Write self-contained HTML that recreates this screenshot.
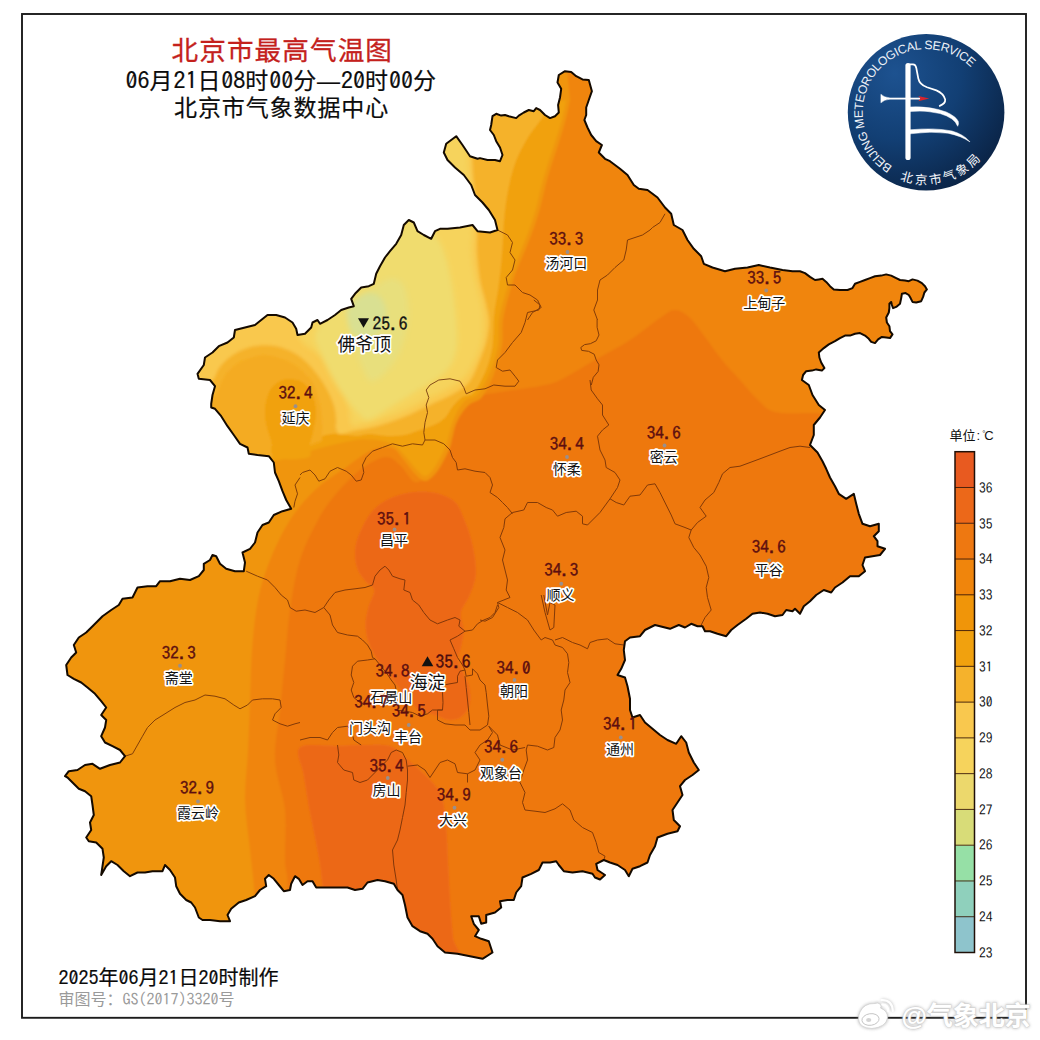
<!DOCTYPE html><html lang="zh"><head><meta charset="utf-8"><title>北京市最高气温图</title>
<style>html,body{margin:0;padding:0;background:#fff}body{width:1040px;height:1040px;overflow:hidden}svg{display:block}.c{font-family:"Liberation Sans","Noto Sans CJK SC",sans-serif}.n{font-family:"IPAGothic","Liberation Mono",monospace}</style></head><body>
<svg width="1040" height="1040" viewBox="0 0 1040 1040">
<defs>
<clipPath id="mapclip"><path d="M447.5,228.8L460,227.5L472.5,225L477.5,231.2L490,232.5L497.5,230L495,220L488.8,210L482.5,202.5L475,195L471.2,185L463.8,175L455,167.5L447.5,160L443.8,152.5L446.2,143.8L456.2,136.2L462.5,145L470,156.2L477.5,158.8L480,158.1L487.5,160L495,160L500,161.2L502.5,155L500,147.5L496.2,141.2L493.8,135L490,130L491.2,125L492.5,116.2L496.2,113.8L501.2,115.6L505,115L508.8,116.2L516.2,118.1L518.8,115.6L523.8,112.5L528.8,110L533.8,111.2L536.2,108.1L540,110L545,115L550,118.1L555,116.2L558.8,112.5L558.1,105L560,97.5L561.2,88.8L557.5,82.5L558.8,75L565,71.2L571.2,71.9L576.2,76.2L582.5,79.4L588.8,80L591.9,91.2L588.8,100L586.2,107.5L586.2,115L584.4,120L587.5,127.5L591.2,135L596.2,141.2L601.9,145L598.8,152.5L605,158.8L610,161.2L615,165L620,168.8L627.5,175L633.8,185L638.8,188.8L647.5,190L657.5,197.5L665,207.5L671.2,213.8L673.8,225L682.5,230L687.5,240L693.8,248.8L701.2,256.2L703.8,263.8L712.5,267.5L725,271.2L735,268.8L747.5,267.5L758.8,265L770,267.5L782.5,270L792.5,271.2L800,271.2L805,273.1L810,276.9L815,280L818.8,279.4L822.5,278.8L826.2,281.9L830,286.2L833.8,289.4L840,290L847.5,290L852.5,288.1L855,283.8L860,281.9L865,280L870,278.1L875,276.2L881.2,275.6L886.2,274.4L891.2,275.6L896.2,278.1L900,280L905,280.6L908.8,281.2L912.5,279.4L917.5,280.6L921.9,283.1L925,286.2L926.9,289.4L924.4,292.5L923.1,296.9L921.2,301.2L916.2,302.5L912.5,301.9L910.6,298.1L908.8,295L905.6,293.1L901.9,293.8L901.2,298.1L900,303.8L896.2,306.9L893.1,308.1L891.9,305L891.2,301.9L889.4,303.8L889.4,308.1L888.8,312.5L886.2,317.5L886.9,322.5L889.4,326.2L890,331.2L892.5,334.4L890,338.1L886.2,337.5L881.9,336.9L878.1,339.4L875,343.1L871.2,341.9L868.8,338.8L865,335.6L860,333.1L855,333.8L850,335.6L845,335.6L840,338.1L835,341.2L828.8,344.4L823.8,348.1L818.8,352.5L819.4,357.5L821.2,362.5L824.4,368.1L821.9,370.6L816.2,369.4L811.9,370.6L806.2,371.2L803.1,375L801.9,380L808.8,385L812.5,395L818.8,405L825,410L820,417.5L813.8,425L813.8,435L810,445L817.5,452.5L822.5,461.2L826.2,468.8L830,477.5L835,486.2L838.8,493.8L846.2,498.8L853.8,493.8L856.2,503.8L858.8,513.8L862.5,523.8L870,526.2L878.8,523.8L878.8,531.2L873.8,536.2L877.5,541.2L877.5,546.2L885,548.8L880,555L872.5,556.2L865,557.5L862.5,565L865,571.2L858.8,576.2L850,576.2L842.5,582.5L835,587.5L831.2,592.5L823.8,590L816.2,595L810,601.2L803.8,606.2L800,613.8L795,608.8L792.5,611.2L786.2,610L782.5,615L775,616.2L767.5,613.8L760,612.5L752.5,613.8L746.2,618.8L737.5,625L731.2,630L726.2,636.2L717.5,633.8L710,631.2L705,631.2L702.5,626.2L697.5,626.2L691.2,623.8L685,627.5L678.8,625L670,628.8L660,626.2L655,625L645,630L640,636.2L630,637.5L625,641.2L623.8,650L625,660L621.2,668.8L617.5,675L625,677.5L627.5,686.2L630,698.8L630,710L632.5,717.5L640,715L645,722.5L652.5,728.8L660,735L667.5,740L676.2,743.8L681.2,736.2L686.2,742.5L688.8,752.5L693.8,762.5L698.8,770L692.5,775L685,780L680,786.2L682.5,795L677.5,802.5L672.5,810L673.8,820L680,826.2L677.5,831.2L667.5,833.8L657.5,837.5L655,846.2L650,855L647.5,862.5L640,866.2L632.5,868.8L628.8,876.2L625,870L617.5,865L610,862.5L603.8,860L596.2,863.8L597.5,870L605,875L600,879.5L595,877.5L592.5,873.8L582.5,871.2L572.5,872.5L563.8,871.2L558.8,865L556.2,861.2L550,862.5L542.5,862.5L538.8,870L531.2,873.8L522.5,877.5L521.2,886.2L516.2,892.5L513.8,900L507.5,900L500,901.2L501.2,907.5L495,912.5L486.2,915L486.2,922.5L481.2,923.8L478.8,916.2L471.2,916.2L473.8,923.8L478.8,930L475,936.2L481.2,938.8L488.8,941.2L492.5,952.5L482.5,958.8L470,956.2L457.5,953.8L445,952.5L437.5,946.2L432.5,938.8L427.5,933.8L420,931.2L412.5,926.2L407.5,917.5L405,905L402.5,895L397.5,890L393.8,883.8L385,881.2L377.5,880L367.5,882.5L362.5,888.8L355,890L347.5,887.5L340,887.5L327.5,887.5L316.2,887.5L312.5,881.2L307.5,881.2L302.5,885L298.8,878.8L295,876.2L291.2,883.8L290,890L283.8,891.2L278.8,885L273.8,878.8L268.8,875L265,878.8L266.2,886.2L260,890L255,896.2L246.2,900L238.8,902.5L231.2,908.8L227.5,915L230,921.2L220,921.2L210,920L202.5,920L198.8,917.5L195,907.5L191.2,902.5L186.2,900L180,893.8L176.2,886.2L175,877.5L170,870L165,865L162.5,871.2L152.5,871.2L145,872.5L137.5,872.5L130,876.2L123.8,871.2L117.5,865L111.2,861.2L106.2,866.2L101.2,875L102.5,866.2L103.8,857.5L102.5,848.8L96.2,842.5L88.8,841.2L86.2,837.5L91.2,830L90,822.5L93.8,815L92.5,805L91.2,796.2L85,791.2L78.8,788.8L72.5,782.5L67.5,777.5L65,776.2L68.8,771.2L77.5,770L85,765L92.5,763.8L100,768.8L110,765L120,762.5L125,756.2L120,750L112.5,746.2L105,742.5L101.2,736.2L105,727.5L106.2,720L101.2,715L106.2,707.5L101.2,701.2L95,693.8L87.5,687.5L81.2,682.5L73.8,678.8L67.5,675L66.2,665L71.2,657.5L76.2,652.5L73.8,645L78.8,637.5L86.2,632.5L93.8,625L102.5,616.2L111.2,610L118.8,605L122.5,598.8L132.5,597.5L137.5,587.5L147.5,586.2L156.2,586.2L160,581.2L170,581.2L180,578.8L190,580L198.8,576.2L203.8,570L203.8,563.8L210,560L212.5,555L216.2,556.2L220,563.8L226.2,568.8L235,571.2L243.8,571.2L245,562.5L242.5,552.5L250,548.8L255,542.5L257.5,532.5L262.5,525L268.8,522.5L273.8,515L282.5,511.2L291.2,508.8L286.2,500L282.5,491.2L278.8,481.2L275,472.5L273.8,462.5L268.8,456.2L257.5,455L248.8,453.8L247.5,447.5L240,443.8L233.8,435L227.5,426.2L221.2,416.2L215,408.8L211.2,407.5L211.2,403.8L212.5,395L215,386.2L210,380L198.8,378.8L197.5,373.8L203.8,365L205,357.5L212.5,352.5L218.8,346.2L227.5,342.5L233.8,337.5L235,330L245,327.5L255,325L261.2,320L267.5,315L276.2,315L285,317.5L292.5,322.5L296.2,328.8L297.5,335L305,333.8L311.2,327.5L312.5,322.5L317.5,320L320,323.8L327.5,320L335,315L341.2,310L348.8,307.5L353.8,306.2L351.2,298.8L355,293.8L361.2,287.5L368.8,286.2L373.8,283.8L376.2,273.8L380,266.2L385,257.5L390,251.2L396.2,243.8L401.2,235L403.8,225L408.8,220L413.8,222.5L417.5,231.2L423.8,235L431.2,238.8L435,231.2L440,228.8Z"/></clipPath>
<radialGradient id="lg" cx="0.3" cy="0.25" r="0.85"><stop offset="0" stop-color="#1d5290"/><stop offset="0.5" stop-color="#123f74"/><stop offset="1" stop-color="#0a2243"/></radialGradient>
<filter id="b1" x="-5%" y="-5%" width="110%" height="110%"><feGaussianBlur stdDeviation="1.2"/></filter>
<filter id="b3" filterUnits="userSpaceOnUse" x="0" y="0" width="1040" height="1040"><feGaussianBlur stdDeviation="2.5"/></filter>
<filter id="b2" x="-20%" y="-20%" width="140%" height="140%"><feGaussianBlur stdDeviation="1.6"/></filter>
<path id="arcT" d="M892.4,166.25 A63.5,63.5 0 1 1 972,68.5"/>
<path id="arcB" d="M899.1,179.2 A72,72 0 0 0 982.8,156.7"/>
</defs>
<rect width="1040" height="1040" fill="#fff"/>
<rect x="22" y="14" width="1004" height="1003.8" fill="none" stroke="#1c1c1c" stroke-width="1.9"/>
<g clip-path="url(#mapclip)"><g filter="url(#b1)">
<rect x="40" y="50" width="920" height="940" fill="#f0850c"/>
<path d="M290,1000C289.7,981.7 288.8,913.3 288,890C287.2,866.7 285.5,873.3 285,860C284.5,846.7 286.7,826.7 285,810C283.3,793.3 275.8,776.7 275,760C274.2,743.3 278.3,726.7 280,710C281.7,693.3 283.3,676.7 285,660C286.7,643.3 287.5,626.7 290,610C292.5,593.3 295.3,575.0 300,560C304.7,545.0 312.2,530.8 318,520C323.8,509.2 328.0,503.3 335,495C342.0,486.7 351.7,476.3 360,470C368.3,463.7 378.3,457.8 385,457C391.7,456.2 395.0,460.8 400,465C405.0,469.2 410.0,480.8 415,482C420.0,483.2 425.8,477.3 430,472C434.2,466.7 437.3,457.8 440,450C442.7,442.2 443.5,432.2 446,425C448.5,417.8 450.2,411.7 455,407C459.8,402.3 467.5,399.5 475,397C482.5,394.5 489.2,393.8 500,392C510.8,390.2 530.0,388.0 540,386C550.0,384.0 550.8,384.3 560,380C569.2,375.7 583.3,366.7 595,360C606.7,353.3 619.2,347.0 630,340C640.8,333.0 652.5,323.0 660,318C667.5,313.0 670.0,310.0 675,310C680.0,310.0 685.0,313.5 690,318C695.0,322.5 699.7,330.0 705,337C710.3,344.0 716.2,352.8 722,360C727.8,367.2 734.0,373.3 740,380C746.0,386.7 752.2,394.7 758,400C763.8,405.3 766.3,409.8 775,412C783.7,414.2 797.5,412.8 810,413C822.5,413.2 825.0,413.5 850,413C875.0,412.5 941.7,410.5 960,410L960,1000Z" fill="#ee7811"/>
<path d="M391.5,497.7C398.2,494.8 406.9,492.7 414.6,492C422.3,491.3 431.0,491.7 437.7,493.4C444.4,495.1 450.7,497.9 455,502C459.3,506.1 461.0,511.9 463.6,517.9C466.2,523.9 468.9,530.8 470.8,538C472.7,545.2 474.5,554.2 475.2,561C475.9,567.8 476.2,572.7 475.2,578.5C474.2,584.3 471.8,590.0 469.4,595.8C467.0,601.5 461.8,607.2 460.8,613C459.8,618.8 463.6,624.6 463.6,630.4C463.6,636.2 461.8,642.9 460.8,647.7C459.9,652.5 457.4,654.9 457.9,659.2C458.4,663.5 461.7,668.8 463.6,673.6C465.5,678.4 468.4,682.7 469.4,688C470.4,693.3 470.8,700.6 469.4,705.4C468.0,710.2 464.2,714.5 460.8,716.9C457.4,719.3 453.1,719.9 449.2,719.8C445.3,719.6 440.6,717.0 437.7,716C434.8,715.0 434.8,714.8 431.9,714C429.0,713.2 424.2,713.5 420.4,711.1C416.5,708.7 412.6,703.9 408.8,699.6C405.0,695.3 401.1,690.0 397.3,685.2C393.5,680.4 389.2,675.1 385.8,670.8C382.4,666.5 380.0,664.0 377.1,659.2C374.2,654.4 370.4,647.7 368.5,641.9C366.6,636.1 365.6,630.4 365.6,624.6C365.6,618.8 367.1,613.1 368.5,607.3C369.9,601.5 374.7,594.3 374.2,590C373.7,585.7 368.5,585.1 365.6,581.3C362.7,577.4 358.6,572.7 356.9,566.9C355.2,561.1 354.5,553.4 355.5,546.7C356.5,540.0 359.6,532.8 362.7,526.5C365.8,520.2 369.4,514.0 374.2,509.2C379.0,504.4 384.8,500.6 391.5,497.7Z" fill="#ec6819"/>
<path d="M300,747.5C305.6,742.7 327.1,746.4 337.5,746C347.9,745.6 353.8,745.0 362.5,745C371.2,745.0 382.9,743.9 390,746C397.1,748.1 399.2,752.7 405,757.5C410.8,762.3 419.0,768.8 425,775C431.0,781.2 437.5,786.7 441,795C444.5,803.3 444.8,813.8 446,825C447.2,836.2 447.3,850.0 448,862.5C448.7,875.0 449.2,887.5 450,900C450.8,912.5 451.8,925.0 453,937.5C454.2,950.0 477.5,968.8 457,975C436.5,981.2 352.4,990.0 330,975C307.6,960.0 324.6,905.8 322.5,885C320.4,864.2 319.6,862.1 317.5,850C315.4,837.9 312.3,825.0 310,812.5C307.7,800.0 305.4,785.8 303.75,775C302.1,764.2 294.4,752.3 300,747.5Z" fill="#ec6819"/>
<path d="M260,1000C259.2,983.3 256.7,925.0 255,900C253.3,875.0 251.7,866.7 250,850C248.3,833.3 245.3,816.7 245,800C244.7,783.3 247.2,766.7 248,750C248.8,733.3 249.3,716.7 250,700C250.7,683.3 250.7,666.7 252,650C253.3,633.3 255.0,615.0 258,600C261.0,585.0 264.7,573.3 270,560C275.3,546.7 282.5,531.7 290,520C297.5,508.3 305.8,498.7 315,490C324.2,481.3 335.5,474.7 345,468C354.5,461.3 364.2,453.3 372,450C379.8,446.7 386.8,446.5 392,448C397.2,449.5 399.2,454.7 403,459C406.8,463.3 411.3,470.3 415,474C418.7,477.7 421.9,481.2 425.4,481C428.9,480.8 432.9,476.5 436,473C439.1,469.5 441.7,464.3 444,460C446.3,455.7 448.5,451.2 450,447C451.5,442.8 452.0,438.8 453,435C454.0,431.2 454.5,427.7 456,424C457.5,420.3 459.7,416.3 462,413C464.3,409.7 466.7,406.7 470,404C473.3,401.3 478.0,402.0 482,397C486.0,392.0 490.7,382.5 494,374C497.3,365.5 500.5,355.0 502,346C503.5,337.0 501.8,328.5 503,320C504.2,311.5 506.8,303.0 509,295C511.2,287.0 513.5,279.0 516,272C518.5,265.0 521.4,259.4 524,253C526.6,246.6 529.1,240.8 531.7,233.8C534.3,226.8 537.2,218.5 539.4,210.8C541.6,203.1 543.1,195.1 545,187.7C546.9,180.3 548.7,173.9 551,166.5C553.3,159.1 556.1,151.5 558.6,143.5C561.1,135.5 564.1,125.8 566,118.5C567.9,111.2 569.3,103.1 570,100L566,60L400,60L40,300L40,1000Z" fill="#f09509"/>
<path d="M566,100C565.4,103.1 564.2,111.2 562.3,118.5C560.4,125.8 557.1,135.5 554.6,143.5C552.1,151.5 549.3,159.1 547,166.5C544.7,173.9 542.9,180.3 541,187.7C539.1,195.1 537.6,203.1 535.4,210.8C533.2,218.5 530.3,226.8 527.7,233.8C525.1,240.8 522.6,246.6 520,253C517.4,259.4 514.8,265.3 512.3,272.3C509.8,279.3 507.2,287.1 505,295C502.8,302.9 500.2,311.5 499,320C497.8,328.5 499.4,337.3 497.9,346C496.4,354.7 493.3,364.0 490,372C486.7,380.0 482.0,389.3 478,394C474.0,398.7 469.3,397.3 466,400C462.7,402.7 460.3,406.0 458,410C455.7,414.0 453.5,419.8 452,424C450.5,428.2 450.1,431.2 449,435C447.9,438.8 447.0,442.7 445.5,446.5C444.0,450.3 442.1,454.1 440,458C437.9,461.9 435.4,466.6 433,469.6C430.6,472.6 428.1,475.9 425.4,476C422.7,476.1 420.2,473.2 417,470C413.8,466.8 409.8,461.2 406,457C402.2,452.8 398.3,447.8 394,445C389.7,442.2 384.3,441.4 380,440.5C375.7,439.6 372.1,439.6 368,439.5C363.9,439.4 362.4,438.8 355.4,440C348.4,441.2 337.0,443.7 326,446.6C315.0,449.5 299.3,455.2 289.6,457.6C279.9,460.0 279.9,460.4 267.7,461C255.5,461.6 225.0,461.0 216.5,461L143.5,455.8L143.5,309.6L289.6,163.5L435.8,126.9Z" fill="#f1a10e"/>
<path d="M548,105C547.2,106.9 546.4,111.0 543,116.5C539.6,122.0 532.2,130.3 527.7,137.7C523.2,145.1 519.0,153.1 516,160.8C513.0,168.5 511.1,176.4 509.4,183.8C507.7,191.2 506.6,198.3 505.6,205C504.7,211.7 504.2,217.6 503.7,224C503.2,230.4 503.1,236.7 502.7,243.5C502.2,250.3 501.8,257.2 501,265C500.2,272.8 499.2,281.7 498,290C496.8,298.3 494.9,305.7 494,315C493.1,324.3 493.7,336.8 492.4,346C491.1,355.2 489.1,362.3 486,370C482.9,377.7 477.8,387.8 473.8,392.3C469.9,396.8 465.8,394.7 462.3,397C458.8,399.3 455.9,402.6 453,406C450.1,409.4 448.1,414.6 445,417.7C441.9,420.8 438.4,422.7 434.6,424.6C430.8,426.5 427.0,427.5 422,429.2C417.0,430.9 410.4,433.9 404.6,435C398.8,436.1 393.1,436.2 387.3,436C381.5,435.8 375.3,434.1 370,434C364.7,433.9 361.5,435.7 355.4,435.7C349.3,435.7 339.6,433.5 333.5,433.8C327.4,434.1 323.7,435.6 318.8,437.5C313.9,439.4 309.1,443.2 304.2,445.5C299.3,447.8 294.8,449.8 289.6,451.4C284.4,453.0 279.3,454.4 273.2,455C267.1,455.6 262.4,454.9 253,455C243.6,455.1 222.6,455.7 216.5,455.8L143.5,455.8L143.5,309.6L289.6,163.5L435.8,126.9Z" fill="#f5b22c"/>
<path d="M470,130C470.3,134.5 471.5,149.3 472,157C472.5,164.7 472.5,169.7 473,176C473.5,182.3 474.5,188.5 475,195C475.5,201.5 475.7,208.5 476,215C476.3,221.5 476.8,227.7 477,234C477.2,240.3 476.5,245.3 477,253C477.5,260.7 478.7,272.2 480,280C481.3,287.8 483.5,293.3 485,300C486.5,306.7 488.7,313.7 489,320C489.3,326.3 488.2,332.3 487,338C485.8,343.7 484.8,346.8 482,354C479.2,361.2 474.7,374.4 470,381C465.3,387.6 460.7,389.5 454,393.5C447.3,397.5 438.3,401.1 430,405C421.7,408.9 413.0,413.4 404,417C395.0,420.6 384.5,424.2 376,426.5C367.5,428.8 359.0,429.8 353,431C347.0,432.2 342.8,434.5 340,434C337.2,433.5 336.6,430.3 336,428C335.4,425.7 336.4,423.4 336.2,420C336.0,416.6 335.6,411.8 334.6,407.7C333.6,403.6 332.1,399.8 330,395.4C327.9,391.0 325.1,385.9 322.3,381.5C319.5,377.1 316.3,373.0 313,369.2C309.7,365.4 306.1,361.6 302.3,358.5C298.5,355.4 294.4,352.9 290,350.8C285.6,348.8 281.3,347.1 276.2,346.2C271.1,345.3 264.6,344.9 259.2,345.4C253.8,345.9 248.7,347.3 243.8,349.2C238.9,351.1 234.1,353.8 230,356.9C225.9,360.0 222.0,363.8 219.2,367.7C216.4,371.6 215.7,376.9 213,380C210.3,383.1 204.7,385.0 203,386L143.5,455.8L143.5,309.6L289.6,163.5L435.8,126.9Z" fill="#f9c84e" filter="url(#b1)"/>
<path d="M466,130C466.3,134.5 467.5,149.3 468,157C468.5,164.7 468.5,169.6 469,176C469.5,182.4 470.5,189.0 471,195.4C471.5,201.8 471.7,208.2 472,214.6C472.3,221.0 472.9,227.4 472.9,233.8C472.9,240.2 471.5,245.3 472,253C472.5,260.7 474.3,272.2 475.8,280C477.3,287.8 479.7,293.3 481,300C482.3,306.7 483.2,313.5 483.5,320C483.8,326.5 483.4,333.1 482.5,338.8C481.6,344.5 480.8,347.8 478,354C475.2,360.2 470.7,370.3 466,376C461.3,381.7 456.5,384.2 450,388C443.5,391.8 435.0,395.1 427,399C419.0,402.9 410.8,407.8 402,411.5C393.2,415.2 382.2,418.7 374,421C365.8,423.3 357.0,426.0 353,425.5C349.0,425.0 350.8,421.0 350,418C349.2,415.0 349.8,413.0 348.5,407.7C347.2,402.4 344.9,392.6 342.3,386.2C339.7,379.8 336.6,374.3 333,369.2C329.4,364.1 325.2,359.2 320.8,355.4C316.4,351.6 310.8,349.5 306.9,346.2C303.0,342.9 299.8,338.8 297.7,335.4C295.6,332.0 294.6,327.6 294,326L296,300L289.6,163.5L435.8,127Z" fill="#f6d35c" filter="url(#b3)"/>
<path d="M413.8,214.6C417.5,218.2 430.6,228.8 436,236C441.4,243.2 443.2,248.8 446,258C448.8,267.2 451.2,279.0 453,291C454.8,303.0 456.5,319.8 457,330C457.5,340.2 457.3,345.7 456,352C454.7,358.3 452.5,363.3 449,368C445.5,372.7 441.0,375.7 434.9,380C428.8,384.3 420.0,389.1 412.5,393.7C405.0,398.3 397.2,403.3 390,407.6C382.8,411.9 374.2,418.5 369.2,419.7C364.2,420.9 363.5,418.0 360,415C356.5,412.0 352.6,407.2 348.4,401.7C344.2,396.2 339.0,389.6 334.6,382C330.2,374.4 325.3,363.7 322,356C318.7,348.3 314.5,342.3 315,336C315.5,329.7 320.8,324.0 325,318C329.2,312.0 334.2,306.3 340,300C345.8,293.7 352.5,288.3 360,280C367.5,271.7 376.0,260.9 385,250C394.0,239.1 409.0,220.5 413.8,214.6LZ" fill="#f0dc6e" filter="url(#b3)"/>
<path d="M353.6,304.1C357.0,301.4 367.6,291.9 373.7,287.7C379.8,283.4 385.2,279.2 390.1,278.6C395.0,278.0 399.8,279.4 402.9,284C405.9,288.6 407.8,298.1 408.4,306C409.0,313.9 408.3,323.0 406.5,331.5C404.7,340.0 401.3,349.8 397.4,357.1C393.4,364.4 387.4,371.4 382.8,375.4C378.2,379.4 373.6,382.7 370,380.9C366.4,379.1 363.6,370.8 360.9,364.4C358.2,358.0 355.7,349.5 353.6,342.5C351.5,335.5 348.1,328.8 348.1,322.4C348.1,316.0 352.7,307.2 353.6,304.1LZ" fill="#e8df7c" filter="url(#b3)"/>
<path d="M346,312C347.5,310.0 351.3,303.2 355,300C358.7,296.8 363.8,293.5 368,293C372.2,292.5 377.0,294.2 380,297C383.0,299.8 385.3,305.5 386,310C386.7,314.5 385.7,320.0 384,324C382.3,328.0 379.3,331.7 376,334C372.7,336.3 368.0,338.3 364,338C360.0,337.7 355.0,336.3 352,332C349.0,327.7 347.0,315.3 346,312LZ" fill="#d9e092" filter="url(#b3)"/>
<path d="M208,398C209.3,397.5 213.9,397.5 216,395C218.1,392.5 218.7,387.0 220.8,383C222.9,379.0 225.2,374.4 228.5,370.8C231.8,367.2 235.7,364.1 240.8,361.5C245.9,358.9 253.3,356.2 259.2,355.4C265.1,354.6 270.8,355.6 276.2,356.9C281.6,358.2 286.9,360.4 291.5,363C296.1,365.6 300.2,369.0 303.8,372.3C307.4,375.6 310.7,379.1 313,383C315.3,386.9 316.4,391.3 317.7,395.4C319.0,399.5 320.0,403.1 320.8,407.7C321.6,412.3 322.1,417.4 322.3,423C322.5,428.6 322.1,438.0 322,441L300,449L270,457L240,458L215,450L200,420Z" fill="#f4ab22" filter="url(#b1)"/>
<path d="M290.3,379C294.2,379.4 300.4,380.3 304.2,383.4C308.0,386.4 311.4,392.2 313.4,397.3C315.3,402.4 315.9,408.3 315.9,413.8C315.9,419.3 314.4,425.0 313.4,430.2C312.4,435.4 310.6,440.2 309.7,444.8C308.8,449.4 313.7,455.5 307.9,457.6C302.1,459.7 281.1,460.3 275,457.6C268.9,454.9 272.8,447.0 271.3,441.2C269.8,435.4 266.9,429.0 265.9,422.9C264.9,416.8 264.6,410.4 265.5,404.6C266.4,398.8 268.8,392.1 271.3,388.2C273.8,384.2 277.3,382.4 280.5,380.9C283.7,379.4 286.4,378.6 290.3,379Z" fill="#f1a10e"/>
</g>
<g fill="none" stroke="#6a2c08" stroke-width="1" stroke-linejoin="round" opacity="0.82">
<path d="M533.8,300L540,305L538.8,310L527.5,312.5L525,322.5L521.2,332.5L512.5,342.5L505,352.5L497.5,360L496.2,367.5L502.5,371.2L510,370L515,376.2L518.8,381.2L515,386.2L505,386.2L493.8,385L485,388.8L475,390L466.2,393.8L463.8,387.5L460,381.2L450,378.8L438.8,380L430,385L426.2,390L428.8,397.5L426.2,405L427.5,412.5L425,422.5L423.8,432.5L425,440"/>
<path d="M425,440L422.5,445L412.5,443.8L402.5,446.2L392.5,443.8L382.5,447.5L372.5,451.2L366.2,457.5L362.5,465L363.8,472.5L361.2,480L356.2,481.2L351.2,475L346.2,471.2L337.5,467.5L330,471.2L325,478.8L318.8,481.2L315,475L310,470L302.5,472.5L300,475"/>
<path d="M425,440L435,440L443.8,443.8L450,450L452.5,457.5L456.2,462.5L457.5,470L465,468.8L475,471.2L485,472.5L490,477.5L492.5,485L490,492.5L497.5,497.5L502.5,502.5L507.5,507.5L512.5,513.8"/>
<path d="M300,477.5L295,485L297.5,493.8L295,501.2L293.8,507.5"/>
<path d="M246.2,571.2L257.5,576.2L267.5,580L275,587.5L281.2,595L287.5,600L290,607.5L296.2,611.2L305,610L315,612.5L323.8,607.5"/>
<path d="M323.8,607.5L328.8,600L335,592.5L345,590L355,588.8L365,587.5L372.5,585L375,576.2L380,570L385,566.2L388.8,570L392.5,576.2L400,578.8L405,580"/>
<path d="M323.8,607.5L330,615L332.5,625L337.5,632.5L347.5,635L357.5,636.2L362.5,640L367.5,645L371.2,651.2L372.5,657.5L375,658.8"/>
<path d="M125,756.2L132.5,753.8L137.5,745L142.5,736.2L147.5,727.5L155,720L165,713.8L175,707.5L185,702.5L195,700L205,695L215,696.2L225,698.8L233.8,705L240,708.8L247.5,705L252.5,700L262.5,698.8L272.5,698.8L280,700L281.2,707.5L275,713.8L272.5,720L280,723.8L287.5,726.2L295,723.8L300,722.5"/>
<path d="M300,740L310,737.5L320,737.5L327.5,740L332.5,732.5L337.5,727.5L347.5,726.2L351.2,730L353.8,740L361.2,745"/>
<path d="M337.5,745L338.8,755L337.5,762.5L343.8,770L352.5,772.5L353.8,780L360,782.5L367.5,780L372.5,775L377.5,770L382.5,765L387.5,760L391.2,752.5L396.2,750L402.5,752.5L406.2,760L407.5,770L407.5,780L406.2,792.5L405,805L402.5,817.5L400,830L397.5,840"/>
<path d="M407.5,766.2L417.5,765L425,770L430,777.5L435,770L440,762.5L447.5,760L455,763.8L457.5,772.5L467.5,773.8L467.5,782.5"/>
<path d="M467.5,773.8L475,770L480,760L475,752.5L480,745L487.5,740L492.5,732.5L488.8,726.2"/>
<path d="M488.8,726.2L497.5,735L500,745L512.5,750L525,747.5"/>
<path d="M375,658.8L367.5,660L357.5,661.2L352.5,666.2L351.2,675L353.8,682.5L351.2,690L353.8,697.5L360,702.5L365,705"/>
<path d="M375,658.8L380,665L386.2,672.5L391.2,680L395,685L396.2,690"/>
<path d="M405,580L403.8,590L410,592.5L412.5,600L418.8,605L423.8,612.5L430,620L437.5,623.8L447.5,620L455,617.5L460,620L458.8,626.2L465,631.2L472.5,630L477.5,623.8L483.8,620L490,617.5L495,612.5L497.5,605"/>
<path d="M465,631.2L457.5,636.2L450,640L453.8,648.8L457.5,657.5L462.5,665L465,670L460,671.2L457.5,676.2L457.5,682.5L450,683.8L443.8,685L442.5,692.5L443,702.5L442.5,710L437.5,710L437.5,720L445,723.8L455,725L465,725L470,730L480,730L487.5,725L488.8,716.2L487.5,705L486.2,692.5L485,685L480,680L477.5,673.8L472.5,668.8L472.5,675L466.2,676.2L465,670"/>
<path d="M465,676.2L466.2,687.5L467.5,700L468.8,712.5L470,725"/>
<path d="M442.5,710L432.5,710L427.5,713.8L420,716.2L412.5,712.5L405,711.2L396.2,710"/>
<path d="M541.2,640L545,637.5L552.5,640L555,645L562.5,647.5L567.5,653.8L568.8,662.5L567.5,672.5L570,682.5L565,690L563.8,700L561.2,710L562.5,720L560,730L555,737.5L553.8,747.5L547.5,750L537.5,746.2L527.5,745L526.2,750"/>
<path d="M555,640L562.5,637.5L572.5,642.5L580,645L587.5,648.8L590,642.5L597.5,640L607.5,638.8L615,643.8L623.8,645"/>
<path d="M526.2,750L527.5,760"/>
<path d="M590,380L591.2,390L597.5,398.8L602.5,405L602.5,415L608.8,425L602.5,430L597.5,436.2L600,450L605,460L606.2,467.5L615,472.5L620,480L617.5,487.5L610,498.8"/>
<path d="M610,498.8L600,512.5L587.5,525L582.5,523.8L582.5,516.2L576.2,511.2L566.2,512.5L557.5,516.2L552.5,510L546.2,507.5L537.5,502.5L527.5,502.5L523.8,510L512.5,512.5"/>
<path d="M610,498.8L616.2,502.5L623.8,505L630,496.2L640,495L647.5,485L655,483.8L660,492.5L666.2,505L671.2,515L675,523.8L685,527.5L691.2,530"/>
<path d="M691.2,530L697.5,522.5L706.2,516.2L700,507.5L705,500L713.8,492.5L718.8,482.5L722.5,473.8L730,467.5L740,466.2"/>
<path d="M691.2,530L688.8,537.5L693.8,547.5L700,555L706.2,566.2L708.8,577.5L706.2,587.5L707.5,597.5L711.2,610L705,617.5L701.2,625L702.5,631.2"/>
<path d="M512.5,512.5L505,518.8L503.8,527.5L500,537.5L505,550L502.5,560L505,570L507.5,580L506.2,590L510,597.5L497.5,602.5L498.8,607.5L492.5,617.5L485,621.2L480,620"/>
<path d="M497.5,602.5L507.5,607.5L517.5,612.5L527.5,620L533.8,630L541.2,640"/>
<path d="M541.2,595L545,612.5L550,630L553.8,627.5L555,605L550,602.5L547.5,615L543.8,595"/>
<path d="M497.5,230L507.5,235L512.5,242.5L510,252.5L515,260L512.5,270L506.2,277.5L507.5,285L515,285L522.5,292.5L530,295L537.5,300L541.2,307.5L532.5,312.5L527.5,320"/>
<path d="M650,230L642.5,235L635,237.5L627.5,240L626.2,250L623.8,260L615,267.5L607.5,275L600,280L597.5,290L597.5,300L593.8,310L597.5,320"/>
<path d="M665,213.8L660,222.5L652.5,227.5L650,230"/>
<path d="M597.1,319.6L597.1,327.3L599,335L596.2,340.8L590.4,343.7L584.6,344.6L580.8,347.5L581.7,350.4L588.5,351.3L594.2,354.2L596.2,360L599,364.8L598.1,371.5L593.3,377.3L591.3,385"/>
<path d="M810,447.5L800,446.2L790,447.5L780,451.2L770,455L760,458.8L750,462.5L740,466.2"/>
<path d="M527.5,760L523.8,770L520,782.5L525,792.5L522.5,802.5L525,810L535,811.2L545,812.5L555,808.8L562.5,803.8L570,810L573.8,820L582.5,827.5L592.5,832.5L596.2,842.5L598.8,852.5L605,856.2L603.8,860"/>
<path d="M397.5,840L392.5,850L393.8,865L396.2,880L397.5,890"/>
</g></g>
<path d="M447.5,228.8L460,227.5L472.5,225L477.5,231.2L490,232.5L497.5,230L495,220L488.8,210L482.5,202.5L475,195L471.2,185L463.8,175L455,167.5L447.5,160L443.8,152.5L446.2,143.8L456.2,136.2L462.5,145L470,156.2L477.5,158.8L480,158.1L487.5,160L495,160L500,161.2L502.5,155L500,147.5L496.2,141.2L493.8,135L490,130L491.2,125L492.5,116.2L496.2,113.8L501.2,115.6L505,115L508.8,116.2L516.2,118.1L518.8,115.6L523.8,112.5L528.8,110L533.8,111.2L536.2,108.1L540,110L545,115L550,118.1L555,116.2L558.8,112.5L558.1,105L560,97.5L561.2,88.8L557.5,82.5L558.8,75L565,71.2L571.2,71.9L576.2,76.2L582.5,79.4L588.8,80L591.9,91.2L588.8,100L586.2,107.5L586.2,115L584.4,120L587.5,127.5L591.2,135L596.2,141.2L601.9,145L598.8,152.5L605,158.8L610,161.2L615,165L620,168.8L627.5,175L633.8,185L638.8,188.8L647.5,190L657.5,197.5L665,207.5L671.2,213.8L673.8,225L682.5,230L687.5,240L693.8,248.8L701.2,256.2L703.8,263.8L712.5,267.5L725,271.2L735,268.8L747.5,267.5L758.8,265L770,267.5L782.5,270L792.5,271.2L800,271.2L805,273.1L810,276.9L815,280L818.8,279.4L822.5,278.8L826.2,281.9L830,286.2L833.8,289.4L840,290L847.5,290L852.5,288.1L855,283.8L860,281.9L865,280L870,278.1L875,276.2L881.2,275.6L886.2,274.4L891.2,275.6L896.2,278.1L900,280L905,280.6L908.8,281.2L912.5,279.4L917.5,280.6L921.9,283.1L925,286.2L926.9,289.4L924.4,292.5L923.1,296.9L921.2,301.2L916.2,302.5L912.5,301.9L910.6,298.1L908.8,295L905.6,293.1L901.9,293.8L901.2,298.1L900,303.8L896.2,306.9L893.1,308.1L891.9,305L891.2,301.9L889.4,303.8L889.4,308.1L888.8,312.5L886.2,317.5L886.9,322.5L889.4,326.2L890,331.2L892.5,334.4L890,338.1L886.2,337.5L881.9,336.9L878.1,339.4L875,343.1L871.2,341.9L868.8,338.8L865,335.6L860,333.1L855,333.8L850,335.6L845,335.6L840,338.1L835,341.2L828.8,344.4L823.8,348.1L818.8,352.5L819.4,357.5L821.2,362.5L824.4,368.1L821.9,370.6L816.2,369.4L811.9,370.6L806.2,371.2L803.1,375L801.9,380L808.8,385L812.5,395L818.8,405L825,410L820,417.5L813.8,425L813.8,435L810,445L817.5,452.5L822.5,461.2L826.2,468.8L830,477.5L835,486.2L838.8,493.8L846.2,498.8L853.8,493.8L856.2,503.8L858.8,513.8L862.5,523.8L870,526.2L878.8,523.8L878.8,531.2L873.8,536.2L877.5,541.2L877.5,546.2L885,548.8L880,555L872.5,556.2L865,557.5L862.5,565L865,571.2L858.8,576.2L850,576.2L842.5,582.5L835,587.5L831.2,592.5L823.8,590L816.2,595L810,601.2L803.8,606.2L800,613.8L795,608.8L792.5,611.2L786.2,610L782.5,615L775,616.2L767.5,613.8L760,612.5L752.5,613.8L746.2,618.8L737.5,625L731.2,630L726.2,636.2L717.5,633.8L710,631.2L705,631.2L702.5,626.2L697.5,626.2L691.2,623.8L685,627.5L678.8,625L670,628.8L660,626.2L655,625L645,630L640,636.2L630,637.5L625,641.2L623.8,650L625,660L621.2,668.8L617.5,675L625,677.5L627.5,686.2L630,698.8L630,710L632.5,717.5L640,715L645,722.5L652.5,728.8L660,735L667.5,740L676.2,743.8L681.2,736.2L686.2,742.5L688.8,752.5L693.8,762.5L698.8,770L692.5,775L685,780L680,786.2L682.5,795L677.5,802.5L672.5,810L673.8,820L680,826.2L677.5,831.2L667.5,833.8L657.5,837.5L655,846.2L650,855L647.5,862.5L640,866.2L632.5,868.8L628.8,876.2L625,870L617.5,865L610,862.5L603.8,860L596.2,863.8L597.5,870L605,875L600,879.5L595,877.5L592.5,873.8L582.5,871.2L572.5,872.5L563.8,871.2L558.8,865L556.2,861.2L550,862.5L542.5,862.5L538.8,870L531.2,873.8L522.5,877.5L521.2,886.2L516.2,892.5L513.8,900L507.5,900L500,901.2L501.2,907.5L495,912.5L486.2,915L486.2,922.5L481.2,923.8L478.8,916.2L471.2,916.2L473.8,923.8L478.8,930L475,936.2L481.2,938.8L488.8,941.2L492.5,952.5L482.5,958.8L470,956.2L457.5,953.8L445,952.5L437.5,946.2L432.5,938.8L427.5,933.8L420,931.2L412.5,926.2L407.5,917.5L405,905L402.5,895L397.5,890L393.8,883.8L385,881.2L377.5,880L367.5,882.5L362.5,888.8L355,890L347.5,887.5L340,887.5L327.5,887.5L316.2,887.5L312.5,881.2L307.5,881.2L302.5,885L298.8,878.8L295,876.2L291.2,883.8L290,890L283.8,891.2L278.8,885L273.8,878.8L268.8,875L265,878.8L266.2,886.2L260,890L255,896.2L246.2,900L238.8,902.5L231.2,908.8L227.5,915L230,921.2L220,921.2L210,920L202.5,920L198.8,917.5L195,907.5L191.2,902.5L186.2,900L180,893.8L176.2,886.2L175,877.5L170,870L165,865L162.5,871.2L152.5,871.2L145,872.5L137.5,872.5L130,876.2L123.8,871.2L117.5,865L111.2,861.2L106.2,866.2L101.2,875L102.5,866.2L103.8,857.5L102.5,848.8L96.2,842.5L88.8,841.2L86.2,837.5L91.2,830L90,822.5L93.8,815L92.5,805L91.2,796.2L85,791.2L78.8,788.8L72.5,782.5L67.5,777.5L65,776.2L68.8,771.2L77.5,770L85,765L92.5,763.8L100,768.8L110,765L120,762.5L125,756.2L120,750L112.5,746.2L105,742.5L101.2,736.2L105,727.5L106.2,720L101.2,715L106.2,707.5L101.2,701.2L95,693.8L87.5,687.5L81.2,682.5L73.8,678.8L67.5,675L66.2,665L71.2,657.5L76.2,652.5L73.8,645L78.8,637.5L86.2,632.5L93.8,625L102.5,616.2L111.2,610L118.8,605L122.5,598.8L132.5,597.5L137.5,587.5L147.5,586.2L156.2,586.2L160,581.2L170,581.2L180,578.8L190,580L198.8,576.2L203.8,570L203.8,563.8L210,560L212.5,555L216.2,556.2L220,563.8L226.2,568.8L235,571.2L243.8,571.2L245,562.5L242.5,552.5L250,548.8L255,542.5L257.5,532.5L262.5,525L268.8,522.5L273.8,515L282.5,511.2L291.2,508.8L286.2,500L282.5,491.2L278.8,481.2L275,472.5L273.8,462.5L268.8,456.2L257.5,455L248.8,453.8L247.5,447.5L240,443.8L233.8,435L227.5,426.2L221.2,416.2L215,408.8L211.2,407.5L211.2,403.8L212.5,395L215,386.2L210,380L198.8,378.8L197.5,373.8L203.8,365L205,357.5L212.5,352.5L218.8,346.2L227.5,342.5L233.8,337.5L235,330L245,327.5L255,325L261.2,320L267.5,315L276.2,315L285,317.5L292.5,322.5L296.2,328.8L297.5,335L305,333.8L311.2,327.5L312.5,322.5L317.5,320L320,323.8L327.5,320L335,315L341.2,310L348.8,307.5L353.8,306.2L351.2,298.8L355,293.8L361.2,287.5L368.8,286.2L373.8,283.8L376.2,273.8L380,266.2L385,257.5L390,251.2L396.2,243.8L401.2,235L403.8,225L408.8,220L413.8,222.5L417.5,231.2L423.8,235L431.2,238.8L435,231.2L440,228.8Z" fill="none" stroke="#140a00" stroke-width="2" stroke-linejoin="round"/>
<text class="c" x="282.3" y="60" font-size="26.6" letter-spacing="1.1" text-anchor="middle" fill="#c4211c" stroke="#c4211c" stroke-width="0.3">北京市最高气温图</text>
<text class="c" x="125.5" y="88.6" font-size="23" letter-spacing="0.9" fill="#0c0c0c" stroke="#0c0c0c" stroke-width="0.2"><tspan class="n" font-size="24" letter-spacing="0">06</tspan>月<tspan class="n" font-size="24" letter-spacing="0">21</tspan>日<tspan class="n" font-size="24" letter-spacing="0">08</tspan>时<tspan class="n" font-size="24" letter-spacing="0">00</tspan>分—<tspan class="n" font-size="24" letter-spacing="0">20</tspan>时<tspan class="n" font-size="24" letter-spacing="0">00</tspan>分</text>
<text class="c" x="281.6" y="116.2" font-size="23" letter-spacing="0.9" text-anchor="middle" fill="#0c0c0c" stroke="#0c0c0c" stroke-width="0.2">北京市气象数据中心</text>
<circle cx="567.5" cy="252" r="1.9" fill="#9a8f8c"/>
<text class="n" x="566.25" y="244.95" font-size="17" text-anchor="middle" fill="#5c0e10" stroke="#5c0e10" stroke-width="0.4">33.3</text>
<text class="c" x="566.25" y="268" font-size="14" text-anchor="middle" fill="#111" stroke="#fff" stroke-width="3.4" stroke-linejoin="round" paint-order="stroke">汤河口</text>
<circle cx="766.25" cy="290.5" r="1.9" fill="#9a8f8c"/>
<text class="n" x="764.25" y="283.7" font-size="17" text-anchor="middle" fill="#5c0e10" stroke="#5c0e10" stroke-width="0.4">33.5</text>
<text class="c" x="764.25" y="308" font-size="14" text-anchor="middle" fill="#111" stroke="#fff" stroke-width="3.4" stroke-linejoin="round" paint-order="stroke">上甸子</text>
<circle cx="769.25" cy="560.5" r="1.9" fill="#9a8f8c"/>
<text class="n" x="768.75" y="553.2" font-size="17" text-anchor="middle" fill="#5c0e10" stroke="#5c0e10" stroke-width="0.4">34.6</text>
<text class="c" x="768.75" y="575" font-size="14" text-anchor="middle" fill="#111" stroke="#fff" stroke-width="3.4" stroke-linejoin="round" paint-order="stroke">平谷</text>
<circle cx="514.5" cy="680" r="1.9" fill="#9a8f8c"/>
<text class="n" x="513.5" y="673.95" font-size="17" text-anchor="middle" fill="#5c0e10" stroke="#5c0e10" stroke-width="0.4">34.0</text>
<text class="c" x="514" y="696.25" font-size="14" text-anchor="middle" fill="#111" stroke="#fff" stroke-width="3.4" stroke-linejoin="round" paint-order="stroke">朝阳</text>
<circle cx="620.75" cy="737.5" r="1.9" fill="#9a8f8c"/>
<text class="n" x="620" y="730.45" font-size="17" text-anchor="middle" fill="#5c0e10" stroke="#5c0e10" stroke-width="0.4">34.1</text>
<text class="c" x="620" y="753.75" font-size="14" text-anchor="middle" fill="#111" stroke="#fff" stroke-width="3.4" stroke-linejoin="round" paint-order="stroke">通州</text>
<circle cx="502.25" cy="759.75" r="1.9" fill="#9a8f8c"/>
<text class="n" x="501" y="753.2" font-size="17" text-anchor="middle" fill="#5c0e10" stroke="#5c0e10" stroke-width="0.4">34.6</text>
<text class="c" x="501" y="777.5" font-size="14" text-anchor="middle" fill="#111" stroke="#fff" stroke-width="3.4" stroke-linejoin="round" paint-order="stroke">观象台</text>
<circle cx="454.5" cy="807.75" r="1.9" fill="#9a8f8c"/>
<text class="n" x="453.75" y="801.2" font-size="17" text-anchor="middle" fill="#5c0e10" stroke="#5c0e10" stroke-width="0.4">34.9</text>
<text class="c" x="453" y="825" font-size="14" text-anchor="middle" fill="#111" stroke="#fff" stroke-width="3.4" stroke-linejoin="round" paint-order="stroke">大兴</text>
<circle cx="387.75" cy="778" r="1.9" fill="#9a8f8c"/>
<text class="n" x="386.5" y="772.2" font-size="17" text-anchor="middle" fill="#5c0e10" stroke="#5c0e10" stroke-width="0.4">35.4</text>
<text class="c" x="386.5" y="795.25" font-size="14" text-anchor="middle" fill="#111" stroke="#fff" stroke-width="3.4" stroke-linejoin="round" paint-order="stroke">房山</text>
<circle cx="198" cy="801.5" r="1.9" fill="#9a8f8c"/>
<text class="n" x="197" y="794.2" font-size="17" text-anchor="middle" fill="#5c0e10" stroke="#5c0e10" stroke-width="0.4">32.9</text>
<text class="c" x="198" y="818" font-size="14" text-anchor="middle" fill="#111" stroke="#fff" stroke-width="3.4" stroke-linejoin="round" paint-order="stroke">霞云岭</text>
<circle cx="180" cy="665.75" r="1.9" fill="#9a8f8c"/>
<text class="n" x="178.75" y="659.2" font-size="17" text-anchor="middle" fill="#5c0e10" stroke="#5c0e10" stroke-width="0.4">32.3</text>
<text class="c" x="178.75" y="682.5" font-size="14" text-anchor="middle" fill="#111" stroke="#fff" stroke-width="3.4" stroke-linejoin="round" paint-order="stroke">斋堂</text>
<circle cx="295.5" cy="406.25" r="1.9" fill="#9a8f8c"/>
<text class="n" x="295.5" y="398.7" font-size="17" text-anchor="middle" fill="#5c0e10" stroke="#5c0e10" stroke-width="0.4">32.4</text>
<text class="c" x="295.5" y="422.5" font-size="14" text-anchor="middle" fill="#111" stroke="#fff" stroke-width="3.4" stroke-linejoin="round" paint-order="stroke">延庆</text>
<circle cx="567" cy="457" r="1.9" fill="#9a8f8c"/>
<text class="n" x="566.75" y="449.95" font-size="17" text-anchor="middle" fill="#5c0e10" stroke="#5c0e10" stroke-width="0.4">34.4</text>
<text class="c" x="566.75" y="473.75" font-size="14" text-anchor="middle" fill="#111" stroke="#fff" stroke-width="3.4" stroke-linejoin="round" paint-order="stroke">怀柔</text>
<circle cx="664.5" cy="445.5" r="1.9" fill="#9a8f8c"/>
<text class="n" x="663.75" y="439.2" font-size="17" text-anchor="middle" fill="#5c0e10" stroke="#5c0e10" stroke-width="0.4">34.6</text>
<text class="c" x="663.75" y="462" font-size="14" text-anchor="middle" fill="#111" stroke="#fff" stroke-width="3.4" stroke-linejoin="round" paint-order="stroke">密云</text>
<circle cx="561.25" cy="583.75" r="1.9" fill="#9a8f8c"/>
<text class="n" x="561.25" y="576.2" font-size="17" text-anchor="middle" fill="#5c0e10" stroke="#5c0e10" stroke-width="0.4">34.3</text>
<text class="c" x="560.5" y="600" font-size="14" text-anchor="middle" fill="#111" stroke="#fff" stroke-width="3.4" stroke-linejoin="round" paint-order="stroke">顺义</text>
<circle cx="394.5" cy="529.5" r="1.9" fill="#9a8f8c"/>
<text class="n" x="394" y="524.7" font-size="17" text-anchor="middle" fill="#5c0e10" stroke="#5c0e10" stroke-width="0.4">35.1</text>
<text class="c" x="394" y="545" font-size="14" text-anchor="middle" fill="#111" stroke="#fff" stroke-width="3.4" stroke-linejoin="round" paint-order="stroke">昌平</text>
<text class="n" x="392.5" y="677.45" font-size="17" text-anchor="middle" fill="#5c0e10" stroke="#5c0e10" stroke-width="0.4">34.8</text>
<text class="c" x="391.25" y="702" font-size="14" text-anchor="middle" fill="#111" stroke="#fff" stroke-width="3.4" stroke-linejoin="round" paint-order="stroke">石景山</text>
<text class="n" x="371.25" y="707.95" font-size="17" text-anchor="middle" fill="#5c0e10" stroke="#5c0e10" stroke-width="0.4">34.7</text>
<text class="c" x="370" y="732.5" font-size="14" text-anchor="middle" fill="#111" stroke="#fff" stroke-width="3.4" stroke-linejoin="round" paint-order="stroke">门头沟</text>
<circle cx="408.75" cy="725" r="1.9" fill="#9a8f8c"/>
<text class="n" x="408.75" y="717.45" font-size="17" text-anchor="middle" fill="#5c0e10" stroke="#5c0e10" stroke-width="0.4">34.5</text>
<text class="c" x="408" y="742" font-size="14" text-anchor="middle" fill="#111" stroke="#fff" stroke-width="3.4" stroke-linejoin="round" paint-order="stroke">丰台</text>
<path d="M358,318.2 L369,318.2 L363.5,327.8Z" fill="#111"/>
<text class="n" x="390" y="329.5" font-size="17.5" text-anchor="middle" fill="#111" stroke="#111" stroke-width="0.35">25.6</text>
<text class="c" x="364.25" y="350.5" font-size="17.8" text-anchor="middle" fill="#111" stroke="#fff" stroke-width="3.4" stroke-linejoin="round" paint-order="stroke">佛爷顶</text>
<path d="M421.7,666.2 L433.3,666.2 L427.5,656.2Z" fill="#111"/>
<text class="n" x="453" y="667.5" font-size="17.5" text-anchor="middle" fill="#4c0c0e" stroke="#4c0c0e" stroke-width="0.4">35.6</text>
<text class="c" x="427.5" y="688.5" font-size="17.8" text-anchor="middle" fill="#111" stroke="#fff" stroke-width="3.4" stroke-linejoin="round" paint-order="stroke">海淀</text>
<rect x="955" y="916.73" width="19.5" height="36.07" fill="#8ec4cc"/>
<rect x="955" y="880.96" width="19.5" height="36.07" fill="#8fd0bc"/>
<rect x="955" y="845.19" width="19.5" height="36.07" fill="#96e0a6"/>
<rect x="955" y="809.42" width="19.5" height="36.07" fill="#d8dc78"/>
<rect x="955" y="773.65" width="19.5" height="36.07" fill="#ecd86c"/>
<rect x="955" y="737.88" width="19.5" height="36.07" fill="#f6d35c"/>
<rect x="955" y="702.11" width="19.5" height="36.07" fill="#f9c84e"/>
<rect x="955" y="666.34" width="19.5" height="36.07" fill="#f5b22c"/>
<rect x="955" y="630.57" width="19.5" height="36.07" fill="#f1a10e"/>
<rect x="955" y="594.80" width="19.5" height="36.07" fill="#f09509"/>
<rect x="955" y="559.03" width="19.5" height="36.07" fill="#f0850c"/>
<rect x="955" y="523.26" width="19.5" height="36.07" fill="#ee7811"/>
<rect x="955" y="487.49" width="19.5" height="36.07" fill="#ec6819"/>
<rect x="955" y="451.72" width="19.5" height="36.07" fill="#e85a20"/>
<path d="M955,916.73H974.5" stroke="#3a1a08" stroke-width="0.9"/>
<path d="M955,880.96H974.5" stroke="#3a1a08" stroke-width="0.9"/>
<path d="M955,845.19H974.5" stroke="#3a1a08" stroke-width="0.9"/>
<path d="M955,809.42H974.5" stroke="#3a1a08" stroke-width="0.9"/>
<path d="M955,773.65H974.5" stroke="#3a1a08" stroke-width="0.9"/>
<path d="M955,737.88H974.5" stroke="#3a1a08" stroke-width="0.9"/>
<path d="M955,702.11H974.5" stroke="#3a1a08" stroke-width="0.9"/>
<path d="M955,666.34H974.5" stroke="#3a1a08" stroke-width="0.9"/>
<path d="M955,630.57H974.5" stroke="#3a1a08" stroke-width="0.9"/>
<path d="M955,594.80H974.5" stroke="#3a1a08" stroke-width="0.9"/>
<path d="M955,559.03H974.5" stroke="#3a1a08" stroke-width="0.9"/>
<path d="M955,523.26H974.5" stroke="#3a1a08" stroke-width="0.9"/>
<path d="M955,487.49H974.5" stroke="#3a1a08" stroke-width="0.9"/>
<rect x="955" y="451.70" width="19.5" height="500.80" fill="none" stroke="#201008" stroke-width="1.5"/>
<text class="n" x="979" y="957.80" font-size="14" fill="#111" textLength="13.5" lengthAdjust="spacingAndGlyphs">23</text>
<text class="n" x="979" y="922.03" font-size="14" fill="#111" textLength="13.5" lengthAdjust="spacingAndGlyphs">24</text>
<text class="n" x="979" y="886.26" font-size="14" fill="#111" textLength="13.5" lengthAdjust="spacingAndGlyphs">25</text>
<text class="n" x="979" y="850.49" font-size="14" fill="#111" textLength="13.5" lengthAdjust="spacingAndGlyphs">26</text>
<text class="n" x="979" y="814.72" font-size="14" fill="#111" textLength="13.5" lengthAdjust="spacingAndGlyphs">27</text>
<text class="n" x="979" y="778.95" font-size="14" fill="#111" textLength="13.5" lengthAdjust="spacingAndGlyphs">28</text>
<text class="n" x="979" y="743.18" font-size="14" fill="#111" textLength="13.5" lengthAdjust="spacingAndGlyphs">29</text>
<text class="n" x="979" y="707.41" font-size="14" fill="#111" textLength="13.5" lengthAdjust="spacingAndGlyphs">30</text>
<text class="n" x="979" y="671.64" font-size="14" fill="#111" textLength="13.5" lengthAdjust="spacingAndGlyphs">31</text>
<text class="n" x="979" y="635.87" font-size="14" fill="#111" textLength="13.5" lengthAdjust="spacingAndGlyphs">32</text>
<text class="n" x="979" y="600.10" font-size="14" fill="#111" textLength="13.5" lengthAdjust="spacingAndGlyphs">33</text>
<text class="n" x="979" y="564.33" font-size="14" fill="#111" textLength="13.5" lengthAdjust="spacingAndGlyphs">34</text>
<text class="n" x="979" y="528.56" font-size="14" fill="#111" textLength="13.5" lengthAdjust="spacingAndGlyphs">35</text>
<text class="n" x="979" y="492.79" font-size="14" fill="#111" textLength="13.5" lengthAdjust="spacingAndGlyphs">36</text>
<text class="c" x="949.5" y="440" font-size="13" fill="#111">单位<tspan dx="1">:</tspan><tspan dx="2" font-size="8" dy="-4">°</tspan><tspan dy="4" dx="-1">C</tspan></text>
<text class="c" x="58.5" y="985" font-size="20" font-weight="400" fill="#0a0a0a" stroke="#0a0a0a" stroke-width="0.2"><tspan class="n">2025</tspan>年<tspan class="n">06</tspan>月<tspan class="n">21</tspan>日<tspan class="n">20</tspan>时制作</text>
<text class="c" x="58.5" y="1005" font-size="16" fill="#9a9a9a">审图号：<tspan class="n">GS(2017)3320</tspan>号</text>
<g>
<circle cx="926.1" cy="112.3" r="78.3" fill="url(#lg)"/>
<text font-family='"Liberation Sans",sans-serif' font-size="12.2" fill="#eef2f8" letter-spacing="-0.3"><textPath href="#arcT" startOffset="0">BEIJING METEOROLOGICAL SERVICE</textPath></text>
<text class="c" font-size="12.5" fill="#f4f6fa" letter-spacing="2.7"><textPath href="#arcB" startOffset="1">北京市气象局</textPath></text>
<path d="M908,158.7 V66 Q908,64.3 910,64.3 H913 Q915.6,64.3 916.3,68 L918.3,78.5 Q919.5,84.5 927,87.3 L936.4,90.4 Q943.5,93.5 945.2,99.5 Q945.6,103.5 939.7,105.9" fill="none" stroke="#fff" stroke-width="1.7" stroke-linecap="round" stroke-linejoin="round"/>
<path d="M908,65.5 V157.5" stroke="#fff" stroke-width="5.2" stroke-linecap="round"/>
<path d="M910,107 Q930,106 946.2,112 Q956,116.5 958.3,121.4 Q959,124 957.7,126.3 Q955,118 940,113.5 Q925,109.6 910,111.5Z" fill="#fff" stroke="#fff" stroke-width="0.5" stroke-linejoin="round"/>
<path d="M910,129.8 Q935,127.5 952,131 Q964,134.5 970,141.9 Q962,136.2 948,133.2 Q930,130.8 910,133.8Z" fill="#fff" stroke="#fff" stroke-width="0.5" stroke-linejoin="round"/>
<path d="M880.9,94.3 Q884,97.6 890,97.9 L920,97.9 V99.2 L890,99.2 Q884,99.5 880.9,102.8Z" fill="#fff" stroke="#fff" stroke-width="0.5"/>
<path d="M918.3,95.9 L929.3,98.55 L918.3,101.2 L920.5,98.55Z" fill="#d8242c"/>
</g>
<g>
<g filter="url(#b2)" opacity="0.55">
<text class="c" x="901.5" y="1024.5" font-size="26" font-weight="700" fill="#9a9a9a" stroke="#9a9a9a" stroke-width="1.6">@气象北京</text>
<path d="M860,1012 Q864,1003 875,1003.5 Q878,1002 880.5,1004.5 Q881.5,1006.5 880.5,1008 Q888,1011 887.5,1018 Q886,1027 872,1028.5 Q859,1028 858.5,1019 Q858.5,1015 860,1012Z" fill="#9a9a9a" stroke="#9a9a9a" stroke-width="1.6"/>
<path d="M881.5,1000.5 Q892,1000 892.5,1011" fill="none" stroke="#9a9a9a" stroke-width="3.6"/>
</g>
<path d="M860,1012 Q864,1003 875,1003.5 Q878,1002 880.5,1004.5 Q881.5,1006.5 880.5,1008 Q888,1011 887.5,1018 Q886,1027 872,1028.5 Q859,1028 858.5,1019 Q858.5,1015 860,1012Z" fill="#fff" stroke="#cfcfcf" stroke-width="0.7"/>
<ellipse cx="870.5" cy="1019.5" rx="8.6" ry="5.8" fill="#fff" stroke="#c2c2c2" stroke-width="0.9" transform="rotate(-8 870.5 1019.5)"/>
<ellipse cx="868.7" cy="1020" rx="2.6" ry="2.1" fill="#d4d4d4"/>
<path d="M881.5,1000.2 Q892.3,999.8 892.8,1011 M882.3,1004.6 Q888,1004.6 888.2,1011.3" fill="none" stroke="#fff" stroke-width="2.2" stroke-linecap="round"/>
<text class="c" x="901.5" y="1024.5" font-size="26" font-weight="700" fill="#fff" stroke="#d2d2d2" stroke-width="0.9" paint-order="stroke">@气象北京</text>
</g>
</svg></body></html>
